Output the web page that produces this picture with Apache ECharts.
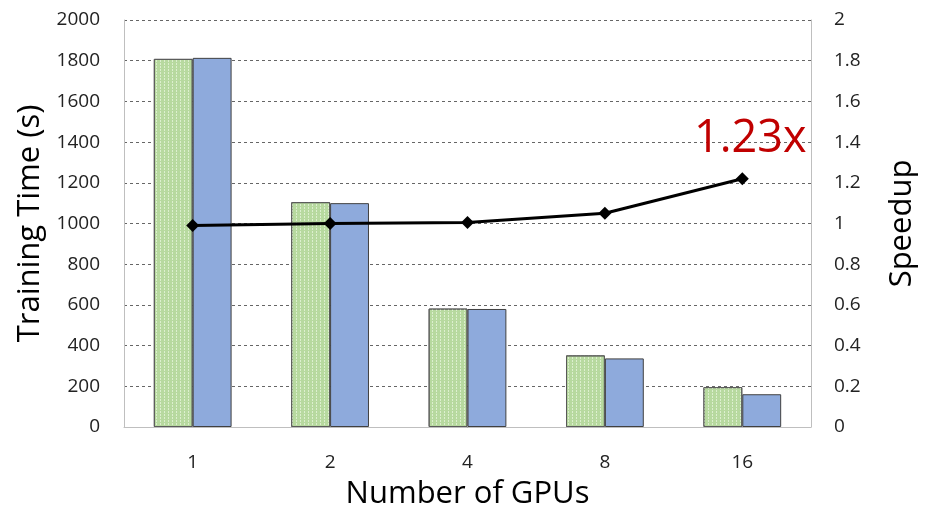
<!DOCTYPE html>
<html><head><meta charset="utf-8">
<script src="https://cdn.jsdelivr.net/npm/echarts@6/dist/echarts.min.js"></script>
<style>html,body{margin:0;padding:0;background:#fff}#c{width:926px;height:515px}</style>
</head><body><div id="c"></div>
<script>
const categories = ['1', '2', '4', '8', '16'];
const timeA = [1809, 1105, 582, 352, 196];
const timeB = [1814, 1100, 580, 337, 161];
const speedup = [0.99, 1.0, 1.005, 1.05, 1.22];
const speedupLabel = '1.23x';
const leftTicks = [0, 2000, 200];
const rightTicks = [0, 2, 0.2];

const chart = echarts.init(document.getElementById('c'));
const font = 'Open Sans';
chart.setOption({
  backgroundColor: '#fff',
  animation: false,
  textStyle: { fontFamily: font },
  grid: { left: 124, right: 113, top: 20, bottom: 86 },
  xAxis: {
    type: 'category', data: categories,
    name: 'Number of GPUs', nameLocation: 'middle', nameGap: 52,
    nameTextStyle: { fontSize: 31, color: '#000', fontFamily: font },
    axisLine: { lineStyle: { color: '#bfbfbf', width: 1 } },
    axisTick: { show: false },
    axisLabel: { fontSize: 19, color: '#222', margin: 26 }
  },
  yAxis: [{
    type: 'value', min: leftTicks[0], max: leftTicks[1], interval: leftTicks[2],
    name: 'Training Time (s)', nameLocation: 'middle', nameGap: 78, nameRotate: 90,
    nameTextStyle: { fontSize: 31, color: '#000', fontFamily: font },
    axisLine: { show: true, lineStyle: { color: '#bfbfbf' } },
    axisTick: { show: false },
    axisLabel: { fontSize: 19, color: '#222', margin: 24, formatter: v => String(v) },
    splitLine: { lineStyle: { color: '#666', type: [3, 3], width: 1 } }
  }, {
    type: 'value', min: rightTicks[0], max: rightTicks[1], interval: rightTicks[2],
    name: 'Speedup', nameLocation: 'middle', nameGap: 76, nameRotate: 90,
    nameTextStyle: { fontSize: 31, color: '#000', fontFamily: font },
    axisLine: { show: true, lineStyle: { color: '#bfbfbf' } },
    axisTick: { show: false },
    axisLabel: { fontSize: 19, color: '#222', margin: 23, formatter: v => String(+v.toFixed(1)) },
    splitLine: { show: false }
  }],
  series: [{
    type: 'bar', data: timeA, barWidth: '28.3%', barGap: '0%',
    itemStyle: {
      color: '#b7d99f', borderColor: '#5a5a5a', borderWidth: 1,
      decal: { symbol: 'rect', color: 'rgba(232,245,222,0.75)', dashArrayX: [[1, 3]], dashArrayY: [2, 1], rotation: 0, symbolSize: 1 }
    }
  }, {
    type: 'bar', data: timeB, barWidth: '28.3%',
    itemStyle: { color: '#8eaadc', borderColor: '#404040', borderWidth: 1 }
  }, {
    type: 'line', yAxisIndex: 1,
    data: speedup.map((v, i) => i === speedup.length - 1 ? {
      value: v,
      label: { show: true, formatter: speedupLabel, position: 'top', offset: [8, -6], fontSize: 45, color: '#c00000', fontFamily: font }
    } : v),
    symbol: 'diamond', symbolSize: 13,
    lineStyle: { color: '#000', width: 3 },
    itemStyle: { color: '#000' }
  }]
});
</script></body></html>
